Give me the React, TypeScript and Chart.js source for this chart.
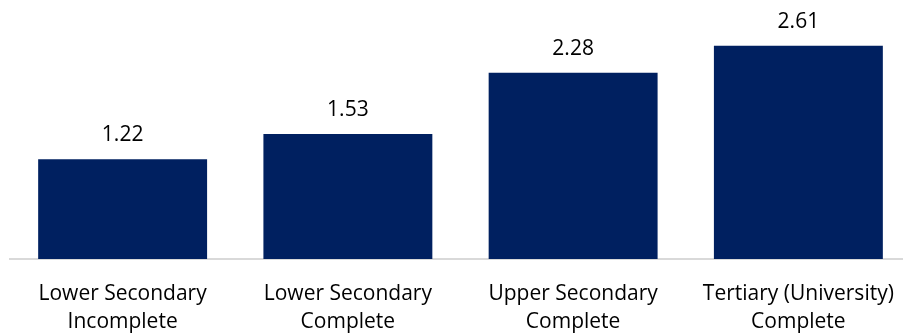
import React, { useEffect, useRef } from "react";
import { Chart, registerables } from "chart.js";

Chart.register(...registerables);

const categories: string[][] = [
  ["Lower Secondary", "Incomplete"],
  ["Lower Secondary", "Complete"],
  ["Upper Secondary", "Complete"],
  ["Tertiary (University)", "Complete"],
];
const values: number[] = [1.22, 1.53, 2.28, 2.61];
const valueLabels: string[] = ["1.22", "1.53", "2.28", "2.61"];

const FONT = "'Open Sans', sans-serif";

const labelPlugin = {
  id: "valueLabels",
  afterDatasetsDraw(chart: any) {
    const ctx = chart.ctx;
    const meta = chart.getDatasetMeta(0);
    ctx.save();
    ctx.font = `21px ${FONT}`;
    ctx.fillStyle = "#000000";
    ctx.textAlign = "center";
    ctx.textBaseline = "alphabetic";
    meta.data.forEach((bar: any, i: number) => {
      ctx.fillText(valueLabels[i], bar.x, bar.y - 18);
    });
    ctx.restore();
  },
};

export default function App() {
  const ref = useRef<HTMLCanvasElement | null>(null);
  useEffect(() => {
    document.body.style.margin = "0";
    if (!ref.current) return;
    const chart = new Chart(ref.current, {
      type: "bar",
      data: {
        labels: categories,
        datasets: [
          {
            data: values,
            backgroundColor: "#002060",
            borderWidth: 0,
            categoryPercentage: 0.75,
            barPercentage: 1,
          },
        ],
      },
      options: {
        responsive: false,
        animation: false,
        layout: { padding: { left: 10, right: 0, top: 14, bottom: 0 } },
        plugins: {
          legend: { display: false },
          tooltip: { enabled: false },
        },
        scales: {
          x: {
            grid: { display: false },
            border: { display: true, color: "#d9d9d9", width: 2 },
            ticks: {
              color: "#000000",
              font: { family: FONT, size: 21, lineHeight: 1.333 },
              padding: 13,
              maxRotation: 0,
              autoSkip: false,
            },
          },
          y: {
            display: false,
            min: 0,
            max: 3,
          },
        },
      },
      plugins: [labelPlugin],
    });
    return () => chart.destroy();
  }, []);
  return (
    <div style={{ width: 903, height: 333, overflow: "hidden", position: "relative" }}>
      <canvas ref={ref} width={911} height={349} style={{ display: "block" }} />
    </div>
  );
}
